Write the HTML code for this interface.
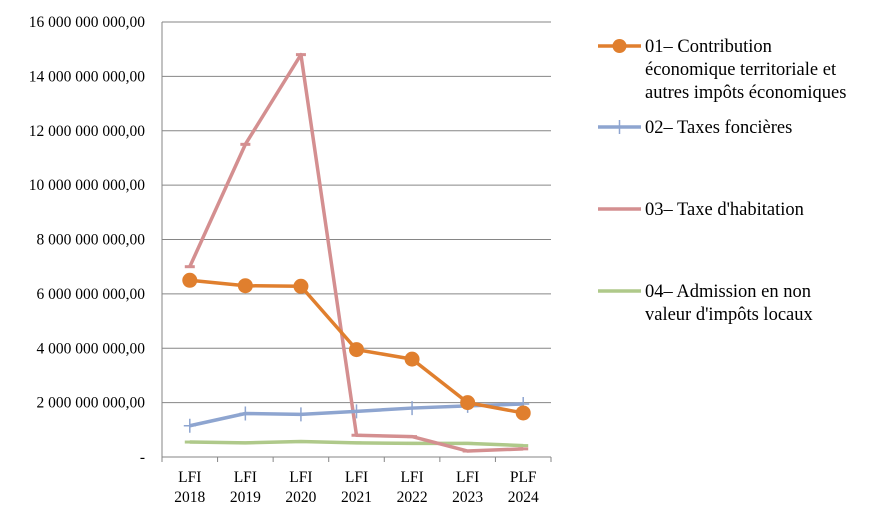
<!DOCTYPE html>
<html><head><meta charset="utf-8"><style>
body{margin:0;background:#fff;width:886px;height:523px;overflow:hidden}
text{font-family:"Liberation Serif",serif;fill:#000}
</style></head><body>
<svg id="chart" width="886" height="523" xmlns="http://www.w3.org/2000/svg"></svg>
<script>
const categories=["LFI|2018","LFI|2019","LFI|2020","LFI|2021","LFI|2022","LFI|2023","PLF|2024"];
const s1=[6.5e9,6.3e9,6.28e9,3.95e9,3.6e9,2.0e9,1.62e9];
const s2=[1.15e9,1.6e9,1.57e9,1.68e9,1.8e9,1.88e9,1.95e9];
const s3=[7.0e9,11.5e9,14.8e9,0.8e9,0.75e9,0.22e9,0.3e9];
const s4=[0.55e9,0.52e9,0.57e9,0.52e9,0.5e9,0.5e9,0.42e9];
const yTicks=[0,2e9,4e9,6e9,8e9,10e9,12e9,14e9,16e9];
const yLabels=["-","2 000 000 000,00","4 000 000 000,00","6 000 000 000,00","8 000 000 000,00","10 000 000 000,00","12 000 000 000,00","14 000 000 000,00","16 000 000 000,00"];
const legendNames=[["01– Contribution","économique territoriale et","autres impôts économiques"],["02– Taxes foncières"],["03– Taxe d'habitation"],["04– Admission en non","valeur d'impôts locaux"]];
const ns="http://www.w3.org/2000/svg",svg=document.getElementById('chart');
const L=162,R=551,T=22,B=457,step=(R-L)/categories.length;
const x=i=>L+step*(i+0.5), y=v=>B-(v/16e9)*(B-T);
function mk(t,a,p){const e=document.createElementNS(ns,t);for(const k in a)e.setAttribute(k,a[k]);(p||svg).appendChild(e);return e;}
yTicks.forEach((v,i)=>{
 if(v>0){const g=mk('line',{x1:L,x2:R,y1:y(v),y2:y(v),stroke:'#868686','stroke-width':1});
 
 }
 const t=mk('text',{x:145,y:y(v)+5,'text-anchor':'end','font-size':'15.5'});t.textContent=yLabels[i];
 
 
});
const ax=mk('line',{x1:L,x2:R,y1:B,y2:B,stroke:'#868686'});


const ay=mk('line',{x1:L,x2:L,y1:T,y2:B,stroke:'#868686'});


for(let i=0;i<=categories.length;i++){const tk=mk('line',{x1:L+step*i,x2:L+step*i,y1:B,y2:B+5,stroke:'#868686'});
 
 }
categories.forEach((c,i)=>{const [a,b]=c.split('|');
 const t=mk('text',{x:x(i),y:482,'text-anchor':'middle','font-size':'15.5'});t.textContent=a;
 
 
 const t2=mk('text',{x:x(i),y:502,'text-anchor':'middle','font-size':'15.5'});t2.textContent=b;
 
 
});
const cols=['#e07f2e','#8ea5d0','#d48f90','#afc98a'];
const series=[s1,s2,s3,s4];
[3,2,1,0].forEach(si=>{
 const d=series[si].map((v,i)=>(i?'L':'M')+x(i)+','+y(v)).join(' ');
 const p=mk('path',{d:d,fill:'none',stroke:cols[si],'stroke-width':3.5,'stroke-linejoin':'round'});
 
 
 series[si].forEach((v,i)=>{
  let m;
  if(si===0){m=mk('circle',{cx:x(i),cy:y(v),r:7.5,fill:cols[0]});}
  else if(si===1){m=mk('path',{d:`M${x(i)-6},${y(v)}H${x(i)+6}M${x(i)},${y(v)-7}V${y(v)+7}`,stroke:cols[1],'stroke-width':1.5});}
  else {m=mk('path',{d:`M${x(i)-5},${y(v)}H${x(i)+5}`,stroke:cols[si],'stroke-width':3});}
  
  
 });
});
const ly=[46,127,209,291];
legendNames.forEach((n,i)=>{
 const ln=mk('line',{x1:598,x2:641,y1:ly[i],y2:ly[i],stroke:cols[i],'stroke-width':3.5});
 
 
 if(i===0){const c=mk('circle',{cx:619.5,cy:ly[i],r:7,fill:cols[0]});}
 if(i===1){const c=mk('path',{d:`M619.5,${ly[i]-7}V${ly[i]+7}`,stroke:cols[1],'stroke-width':1.5});}
 n.forEach((s,j)=>{const t=mk('text',{x:645,y:ly[i]+6+j*23,'font-size':'18.5'});t.textContent=s;
  
  });
});
</script>
</body></html>
